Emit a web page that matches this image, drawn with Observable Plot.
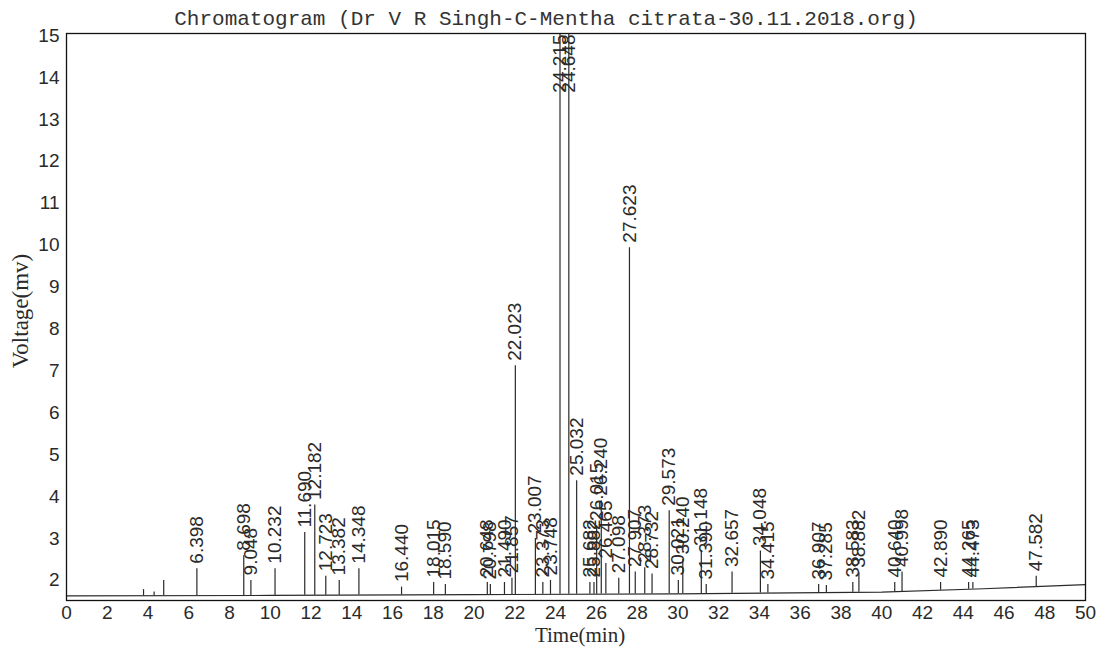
<!DOCTYPE html>
<html><head><meta charset="utf-8">
<script src="https://cdn.jsdelivr.net/npm/d3@7"></script>
<script src="https://cdn.jsdelivr.net/npm/@observablehq/plot@0.6"></script>
<style>body{margin:0;background:#fff}</style>
</head><body><div id="chart"></div>
<script>
const titleText = "Chromatogram (Dr V R Singh-C-Mentha citrata-30.11.2018.org)";
const xLabel = "Time(min)";
const yLabel = "Voltage(mv)";

// labelled peaks: retention time (min) and apex voltage (mv)
const peakTimes = [6.398, 8.698, 9.048, 10.232, 11.690, 12.182, 12.723, 13.382, 14.348, 16.440,
  18.015, 18.590, 20.648, 20.798, 21.490, 21.857, 22.023, 23.007, 23.373, 23.748,
  24.215, 24.648, 25.032, 25.682, 25.882, 26.015, 26.240, 26.465, 27.098, 27.623,
  27.907, 28.373, 28.732, 29.573, 30.021, 30.240, 31.148, 31.390, 32.657, 34.048,
  34.415, 36.907, 37.285, 38.583, 38.882, 40.640, 40.998, 42.890, 44.265, 44.473, 47.582];
const peakLabels = ["6.398", "8.698", "9.048", "10.232", "11.690", "12.182", "12.723", "13.382", "14.348", "16.440",
  "18.015", "18.590", "20.648", "20.798", "21.490", "21.857", "22.023", "23.007", "23.373", "23.748",
  "24.215", "24.648", "25.032", "25.682", "25.882", "26.015", "26.240", "26.465", "27.098", "27.623",
  "27.907", "28.373", "28.732", "29.573", "30.021", "30.240", "31.148", "31.390", "32.657", "34.048",
  "34.415", "36.907", "37.285", "38.583", "38.882", "40.640", "40.998", "42.890", "44.265", "44.473", "47.582"];
const peakHeights = [2.28, 2.59, 2.0, 2.28, 3.14, 3.8, 2.1, 2.0, 2.28, 1.84,
  1.95, 1.9, 1.95, 1.9, 1.95, 2.05, 7.12, 3.0, 1.95, 2.0,
  40, 30, 4.38, 1.95, 1.95, 3.3, 3.9, 2.4, 2.05, 9.94,
  2.2, 2.3, 2.15, 3.66, 2.0, 2.5, 2.7, 1.9, 2.2, 2.7,
  1.9, 1.9, 1.88, 1.95, 2.18, 1.95, 2.2, 1.95, 1.95, 1.95, 2.1];

// unlabelled small peaks
const minorTimes = [3.78, 4.30, 4.77];
const minorHeights = [1.78, 1.72, 2.0];

// baseline drift
const baseTimes = [0, 10, 20, 30, 40, 45, 50];
const baseValues = [1.63, 1.64, 1.66, 1.68, 1.72, 1.8, 1.9];

const xTicks = [0,2,4,6,8,10,12,14,16,18,20,22,24,26,28,30,32,34,36,38,40,42,44,46,48,50];
const yTicks = [2,3,4,5,6,7,8,9,10,11,12,13,14,15];

const yMin = 1.52, yMax = 15.05;
const baseAt = d3.scaleLinear(baseTimes, baseValues);

const peaks = peakTimes.map((t, i) => ({t, label: peakLabels[i], h: peakHeights[i], base: baseAt(t)}));
const minors = minorTimes.map((t, i) => ({t, h: minorHeights[i], base: baseAt(t)}));
const baseline = baseTimes.map((t, i) => ({t, v: baseValues[i]}));

const ink = "#2a2a2a";
const sans = "Liberation Sans, Arial, sans-serif";
const serif = "Liberation Serif, Times New Roman, serif";

const chart = Plot.plot({
  width: 1106,
  height: 652,
  marginLeft: 66,
  marginRight: 21,
  marginTop: 33,
  marginBottom: 52,
  style: {fontFamily: sans, fontSize: "19px", color: ink, background: "#fff"},
  x: {domain: [0, 50], ticks: xTicks, tickSize: 0, tickPadding: 5, label: null},
  y: {domain: [yMin, yMax], ticks: yTicks, tickSize: 0, tickPadding: 7, label: null},
  marks: [
    Plot.line(baseline, {x: "t", y: "v", stroke: ink, strokeWidth: 1.2}),
    Plot.ruleX(minors, {x: "t", y1: "base", y2: "h", stroke: ink, strokeWidth: 1.2}),
    Plot.ruleX(peaks, {x: "t", y1: "base", y2: "h", stroke: ink, strokeWidth: 1.2, clip: true}),
    Plot.text(peaks.filter(d => d.h <= yMax), {x: "t", y: "h", text: "label", rotate: -90, textAnchor: "start", lineAnchor: "middle", dy: -5, fontSize: 19, fill: ink}),
    Plot.text(peaks.filter(d => d.h > yMax), {x: "t", frameAnchor: "top", text: "label", rotate: -90, textAnchor: "end", lineAnchor: "middle", dy: 1, fontSize: 19, fill: ink}),
    Plot.frame({stroke: "#111", strokeWidth: 1.3}),
    Plot.text([titleText], {frameAnchor: "top", lineAnchor: "middle", textAnchor: "middle", dy: -15, dx: -30, fontFamily: "Liberation Mono, monospace", fontSize: 21, fill: "#333"}),
    Plot.text([xLabel], {frameAnchor: "bottom", lineAnchor: "middle", textAnchor: "middle", dy: 35, dx: 4, fontFamily: serif, fontSize: 21, fill: ink}),
    Plot.text([yLabel], {frameAnchor: "left", rotate: -90, textAnchor: "middle", lineAnchor: "middle", dx: -46, dy: -6, fontFamily: serif, fontSize: 23, fill: ink})
  ]
});
document.getElementById("chart").appendChild(chart);
</script>
</body></html>
